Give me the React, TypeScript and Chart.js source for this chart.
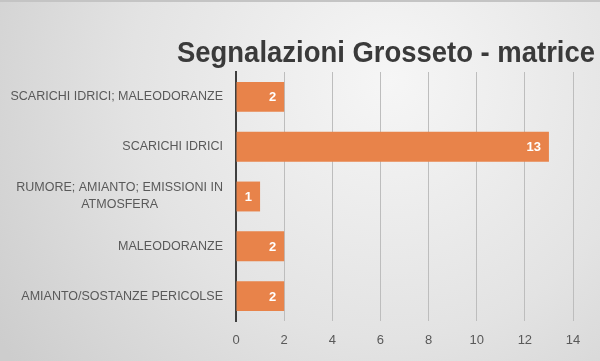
import React, { useEffect, useRef } from 'react';
import { Chart, registerables } from 'chart.js';

Chart.register(...registerables);

const categories: string[][] = [
  ['SCARICHI IDRICI; MALEODORANZE'],
  ['SCARICHI IDRICI'],
  ['RUMORE; AMIANTO; EMISSIONI IN', 'ATMOSFERA'],
  ['MALEODORANZE'],
  ['AMIANTO/SOSTANZE PERICOLSE'],
];
const values = [2, 13, 1, 2, 2];
const xMin = 0;
const xMax = 14;
const xStep = 2;
const chartTitle = 'Segnalazioni Grosseto - matrice';

const FONT = '"Liberation Sans Narrow", "Liberation Sans", Arial, sans-serif';
const BAR_COLOR = '#E8834A';
const TEXT_COLOR = '#595959';

const bgPlugin = {
  id: 'bg',
  beforeDraw(chart: any) {
    const { ctx, width, height } = chart;
    ctx.save();
    const g = ctx.createRadialGradient(390, 80, 0, 390, 80, 470);
    g.addColorStop(0, '#f6f6f6');
    g.addColorStop(0.55, '#e3e3e3');
    g.addColorStop(1, '#cdcdcd');
    ctx.fillStyle = g;
    ctx.fillRect(0, 0, width, height);
    ctx.strokeStyle = '#c4c4c4';
    ctx.lineWidth = 2;
    ctx.beginPath();
    ctx.moveTo(0, 1);
    ctx.lineTo(width, 1);
    ctx.stroke();
    ctx.restore();
  },
};

const labelsPlugin = {
  id: 'customLabels',
  afterDraw(chart: any) {
    const { ctx } = chart;
    const yScale = chart.scales.y;
    ctx.save();
    // title
    ctx.fillStyle = '#3a3a3a';
    ctx.font = `bold 29px ${FONT}`;
    ctx.textAlign = 'right';
    ctx.textBaseline = 'alphabetic';
    ctx.fillText(chartTitle, 595, 62, 418);

    // category labels
    ctx.font = `12.5px ${FONT}`;
    ctx.fillStyle = TEXT_COLOR;
    ctx.textAlign = 'center';
    ctx.textBaseline = 'middle';
    const rightEdge = 223;
    const lh = 17;
    categories.forEach((lines, i) => {
      const y = yScale.getPixelForValue(i);
      const w = Math.max(...lines.map((l) => ctx.measureText(l).width));
      const cx = rightEdge - w / 2;
      lines.forEach((l, j) => {
        ctx.fillText(l, cx, y + (j - (lines.length - 1) / 2) * lh);
      });
    });

    // data labels
    const meta = chart.getDatasetMeta(0);
    ctx.font = `bold 13px ${FONT}`;
    ctx.fillStyle = '#ffffff';
    ctx.textAlign = 'right';
    meta.data.forEach((el: any, i: number) => {
      ctx.fillText(String(values[i]), el.x - 8, el.y + 1);
    });
    ctx.restore();
  },
};

export default function App() {
  const ref = useRef<HTMLCanvasElement | null>(null);
  useEffect(() => {
    if (!ref.current) return;
    const chart = new Chart(ref.current, {
      type: 'bar',
      data: {
        labels: categories.map((c) => c.join(' ')),
        datasets: [
          {
            data: values,
            backgroundColor: BAR_COLOR,
            borderWidth: 0,
            barPercentage: 0.6,
            categoryPercentage: 1,
          },
        ],
      },
      options: {
        indexAxis: 'y',
        animation: false,
        responsive: false,
        maintainAspectRatio: false,
        layout: { padding: { top: 72, right: 27, left: 0, bottom: 0 } },
        plugins: {
          legend: { display: false },
          tooltip: { enabled: false },
          title: { display: false },
        },
        scales: {
          x: {
            min: xMin,
            max: xMax,
            ticks: {
              stepSize: xStep,
              color: TEXT_COLOR,
              font: { family: FONT, size: 13 },
              padding: 12,
            },
            grid: { color: '#bdbdbd', drawTicks: false, lineWidth: 1 },
            border: { display: false },
            afterFit: (s: any) => {
              s.height = 40;
            },
          },
          y: {
            ticks: { display: false },
            grid: { display: false },
            border: { display: true, color: '#3f3f3f', width: 2 },
            afterFit: (s: any) => {
              s.width = 236;
            },
          },
        },
      },
      plugins: [bgPlugin, labelsPlugin],
    });
    return () => chart.destroy();
  }, []);
  return (
    <div style={{ position: 'fixed', left: 0, top: 0, width: 600, height: 361 }}>
      <canvas ref={ref} width={600} height={361} style={{ display: 'block' }} />
    </div>
  );
}
